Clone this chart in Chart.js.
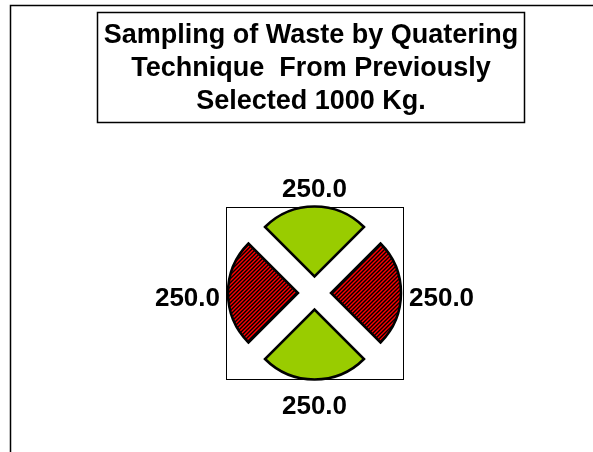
<!DOCTYPE html>
<html lang="en">
<head>
<meta charset="UTF-8">
<title>Sampling of Waste by Quatering Technique</title>
<script src="https://cdn.jsdelivr.net/npm/chart.js"></script>
<style>
  body { margin: 0; background: #fff; }
  #chart { display: block; }
</style>
</head>
<body>
<canvas id="chart" width="593" height="452"></canvas>
<script>
// chart data
const titleLines = ['Sampling of Waste by Quatering', 'Technique  From Previously', 'Selected 1000 Kg.'];
const quarters = ['Top quarter', 'Right quarter', 'Bottom quarter', 'Left quarter'];
const weights = [250, 250, 250, 250];

const FONT = 'bold 26px "Liberation Sans", Arial, sans-serif';
const TITLE_FONT = 'bold 27px "Liberation Sans", Arial, sans-serif';

// red/black diagonal hatch for the rejected quarters
function hatchPattern() {
    const c = document.createElement('canvas');
    c.width = 4; c.height = 4;
    const g = c.getContext('2d');
    g.fillStyle = '#ff0000';
    g.fillRect(0, 0, 4, 4);
    g.fillStyle = '#000000';
    for (let y = 0; y < 4; y++) {
        for (let x = 0; x < 4; x++) {
            if ((x + y) % 4 < 2) g.fillRect(x, y, 1, 1);
        }
    }
    return g.createPattern(c, 'repeat');
}
const hatch = hatchPattern();
const fills = ['#99cc00', hatch, '#99cc00', hatch];

const framePlugin = {
    id: 'frame',
    beforeDatasetsDraw(chart) {
        const ctx = chart.ctx;
        const a = chart.chartArea;
        ctx.save();
        ctx.strokeStyle = '#000';
        // outer frame (top + left only)
        ctx.lineWidth = 1.5;
        ctx.beginPath();
        ctx.moveTo(10.5, chart.height);
        ctx.lineTo(10.5, 5.5);
        ctx.lineTo(chart.width, 5.5);
        ctx.stroke();
        // title box
        ctx.strokeRect(97.5, 12.5, 427, 110);
        // plot area box
        ctx.lineWidth = 1;
        ctx.strokeRect(a.left + 0.5, a.top + 0.5, a.width, a.height);
        // title text
        ctx.fillStyle = '#000';
        ctx.font = TITLE_FONT;
        ctx.textAlign = 'center';
        ctx.textBaseline = 'alphabetic';
        titleLines.forEach((t, i) => ctx.fillText(t, 311, 43 + i * 33));
        ctx.restore();
    },
    afterDatasetsDraw(chart) {
        const ctx = chart.ctx;
        const meta = chart.getDatasetMeta(0);
        const values = chart.data.datasets[0].data;
        ctx.save();
        ctx.font = FONT;
        ctx.fillStyle = '#000';
        ctx.textAlign = 'center';
        ctx.textBaseline = 'alphabetic';
        meta.data.forEach((arc, i) => {
            const txt = values[i].toFixed(1);
            const w = ctx.measureText(txt).width + 4;
            const h = 32;
            const mid = (arc.startAngle + arc.endAngle) / 2;
            const cos = Math.cos(mid), sin = Math.sin(mid);
            const ext = Math.abs(cos) * w / 2 + Math.abs(sin) * h / 2;
            const d = 92.5 + ext;
            const x = arc.x + cos * d;
            const y = arc.y + sin * d + 3.5;
            ctx.fillText(txt, x, y + 9.3);
        });
        ctx.restore();
    }
};

new Chart(document.getElementById('chart'), {
    type: 'pie',
    data: {
        labels: quarters,
        datasets: [{
            data: weights,
            backgroundColor: fills,
            borderColor: '#000',
            borderWidth: 2.5,
            borderJoinStyle: 'miter',
            offset: 66
        }]
    },
    options: {
        responsive: false,
        animation: false,
        events: [],
        rotation: -45,
        radius: 70,
        layout: { padding: { left: 226, right: 190, top: 207, bottom: 73 } },
        plugins: {
            legend: { display: false },
            tooltip: { enabled: false },
            title: { display: false }
        }
    },
    plugins: [framePlugin]
});
</script>
</body>
</html>
